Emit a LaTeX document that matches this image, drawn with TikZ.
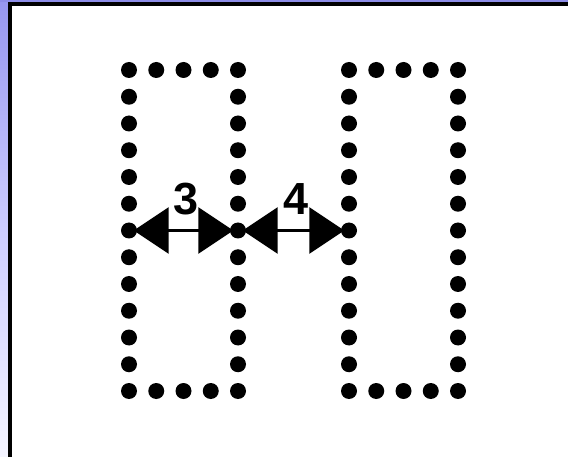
\documentclass[tikz,border=0pt]{standalone}
\usepackage{fontspec}
\setmainfont{Liberation Sans}
\usetikzlibrary{arrows.meta}
\definecolor{stripblue}{RGB}{140,140,232}
\definecolor{striptop}{RGB}{150,150,240}
\definecolor{stripmid}{RGB}{205,205,255}
\definecolor{stripbot}{RGB}{244,244,255}
\begin{document}
\begin{tikzpicture}[x=1pt,y=-1pt,
  dot/.style={circle,fill=black,inner sep=0pt,minimum size=16pt},
  dimarrow/.style={line width=3pt,
    {Triangle[length=35pt,width=46pt]}-{Triangle[length=35pt,width=46pt]},
    shorten <=-3.5pt, shorten >=-3.5pt},
  dimlabel/.style={font=\fontsize{45}{45}\selectfont\bfseries,inner sep=0pt}]
\useasboundingbox (0,0) rectangle (568,457);
\fill[white] (0,0) rectangle (568,457);
% frame
\shade[top color=striptop, bottom color=stripbot, middle color=stripmid] (0,0) rectangle (8,457);
\fill[stripblue] (0,0) rectangle (568,2);
\fill[black] (8,2) rectangle (568,6);
\fill[black] (8,2) rectangle (12,457);
% dots: left rectangle (L) and right rectangle (R)
\foreach \r/\xstart in {L/129,R/349}{
  \foreach \i in {0,...,4}{
    \foreach \j in {0,...,12}{
      \pgfmathtruncatemacro{\onedge}{or(or(\i==0,\i==4),or(\j==0,\j==12))}
      \ifnum\onedge=1
        \node[dot] (\r-\i-\j) at ({\xstart+27.25*\i},{70+26.75*\j}) {};
      \fi
    }
  }
}
% dimension arrows
\draw[dimarrow] (L-0-6) -- (L-4-6);
\draw[dimarrow] (L-4-6) -- (R-0-6);
\node[dimlabel] (lab3) at (186.5,199) {3};
\node[dimlabel] (lab4) at (296,199) {4};
\end{tikzpicture}
\end{document}
